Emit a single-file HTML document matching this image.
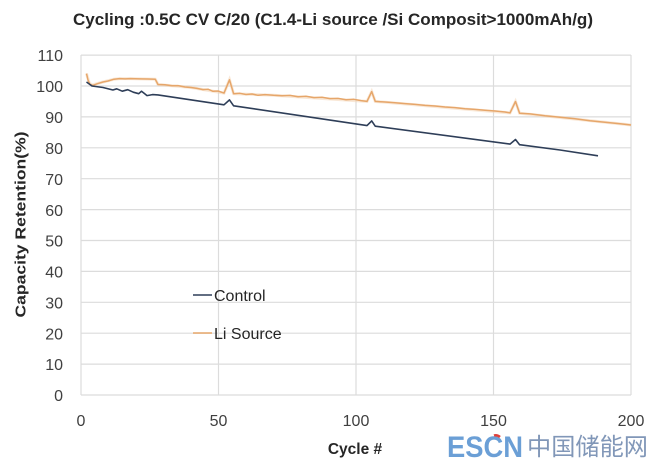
<!DOCTYPE html>
<html><head><meta charset="utf-8"><style>
html,body{margin:0;padding:0;background:#fff;}
svg{display:block;}
text{font-family:"Liberation Sans",Arial,sans-serif;}
</style></head><body>
<svg width="656" height="464" viewBox="0 0 656 464" xmlns="http://www.w3.org/2000/svg">
<rect width="656" height="464" fill="#fff"/>
<text x="333" y="25" text-anchor="middle" font-size="16.5" font-weight="bold" fill="#262626" textLength="520" lengthAdjust="spacingAndGlyphs">Cycling :0.5C CV C/20 (C1.4-Li source /Si Composit&gt;1000mAh/g)</text>
<g stroke="#dcdcdc" stroke-width="1.2">
<line x1="81" y1="55.1" x2="631" y2="55.1"/>
<line x1="81" y1="86" x2="631" y2="86"/>
<line x1="81" y1="116.9" x2="631" y2="116.9"/>
<line x1="81" y1="147.8" x2="631" y2="147.8"/>
<line x1="81" y1="178.7" x2="631" y2="178.7"/>
<line x1="81" y1="209.6" x2="631" y2="209.6"/>
<line x1="81" y1="240.5" x2="631" y2="240.5"/>
<line x1="81" y1="271.4" x2="631" y2="271.4"/>
<line x1="81" y1="302.3" x2="631" y2="302.3"/>
<line x1="81" y1="333.2" x2="631" y2="333.2"/>
<line x1="81" y1="364.1" x2="631" y2="364.1"/>
<line x1="81" y1="395" x2="631" y2="395"/>
<line x1="81" y1="55" x2="81" y2="395"/>
<line x1="218.5" y1="55" x2="218.5" y2="395"/>
<line x1="356" y1="55" x2="356" y2="395"/>
<line x1="493.5" y1="55" x2="493.5" y2="395"/>
<line x1="631" y1="55" x2="631" y2="395"/>
</g>
<g font-size="16" fill="#404040" text-anchor="end">
<text x="63" y="61">110</text>
<text x="63" y="92">100</text>
<text x="63" y="123">90</text>
<text x="63" y="154">80</text>
<text x="63" y="185">70</text>
<text x="63" y="216">60</text>
<text x="63" y="246.5">50</text>
<text x="63" y="277.5">40</text>
<text x="63" y="308.5">30</text>
<text x="63" y="339.5">20</text>
<text x="63" y="370">10</text>
<text x="63" y="401">0</text>
</g>
<g font-size="16" fill="#404040" text-anchor="middle">
<text x="81" y="426">0</text>
<text x="218.5" y="426">50</text>
<text x="356" y="426">100</text>
<text x="493.5" y="426">150</text>
<text x="631" y="426">200</text>
</g>
<text x="355" y="454" text-anchor="middle" font-size="15.5" font-weight="bold" fill="#262626">Cycle #</text>
<text transform="translate(25.5,224.5) rotate(-90)" text-anchor="middle" font-size="15" font-weight="bold" fill="#262626" textLength="186" lengthAdjust="spacingAndGlyphs">Capacity Retention(%)</text>
<polyline fill="none" stroke="#f3d2b0" stroke-width="3" stroke-opacity="0.5" points="86.5,73.6 89.25,82.9 92,85.1 103,82 114,79.2 119.5,78.6 130.5,78.6 155.25,79.2 158,84.5 191,87.5 224,93.1 229.5,79.8 233.6,93.7 273.5,95.3 367,101.4 371.7,91.6 375.25,101.4 510,112.9 515.5,101.5 519.6,113.2 631,125"/>
<polyline fill="none" stroke="#e6a66a" stroke-width="1.5" stroke-linejoin="round" points="86.5,73.6 88,80 90,84.5 93,85.3 97,83.8 103,82 108,81 114,79.2 119.5,78.6 125,78.9 130.5,78.6 140,78.9 148,79 155.25,79.2 158,84.5 165,84.8 172,85.8 178,85.6 185,87 191,87.5 197,88.4 203,89.6 208,89.2 213,91.3 218,91 224,93.1 229.5,79.8 233.6,93.7 240,93.3 246,94.5 252,94 258,95.3 265,94.6 273.5,95.3 282,95.8 290,95.4 298,96.8 306,96.3 314,97.6 322,97.2 330,98.6 338,98.4 346,99.7 354,99.3 361,100.6 367,101.4 371.7,91.6 375.25,101.4 385,102 395,102.8 405,103.6 415,104.4 425,105.4 435,106 445,107 455,107.6 465,108.7 475,109.4 485,110.2 495,111 505,112 510,112.9 515.5,101.5 519.6,113.2 530,113.9 545,115.8 560,117.3 575,118.7 590,120.8 605,122.2 620,123.8 631,125"/>
<polyline fill="none" stroke="#2e3e58" stroke-width="1.6" stroke-linejoin="round" points="86.5,82 92,86 103,87.5 112.9,90 116.75,88.8 122.25,91.2 127.75,89.7 133.25,92.2 138.75,93.7 141.5,91.2 144.25,93.4 147,95.6 152.5,94.6 158,94.96 224,104.8 229.5,99.9 233.6,105.8 367,125.6 371.7,120.9 375.25,126.2 510,144.1 515.5,139.5 519.6,144.7 560,150 598,155.8"/>
<line x1="193" y1="295" x2="212" y2="295" stroke="#2e3e58" stroke-width="1.6"/>
<text x="214" y="301" font-size="16" fill="#262626">Control</text>
<line x1="193" y1="333" x2="212" y2="333" stroke="#e6a66a" stroke-width="1.6"/>
<text x="214" y="339" font-size="16" fill="#262626">Li Source</text>
<text x="447" y="457" font-size="30" font-weight="bold" fill="#6b9fd6" textLength="76" lengthAdjust="spacingAndGlyphs">ESCN</text>
<path d="M494 435.5 Q497 434.5 500 437" stroke="#e0403a" stroke-width="2.5" fill="none"/>
<text x="527" y="455" font-size="24" fill="#8197b8" font-family="'Noto Sans CJK SC','WenQuanYi Zen Hei',sans-serif" textLength="121" lengthAdjust="spacingAndGlyphs">中国储能网</text>
</svg>
</body></html>
